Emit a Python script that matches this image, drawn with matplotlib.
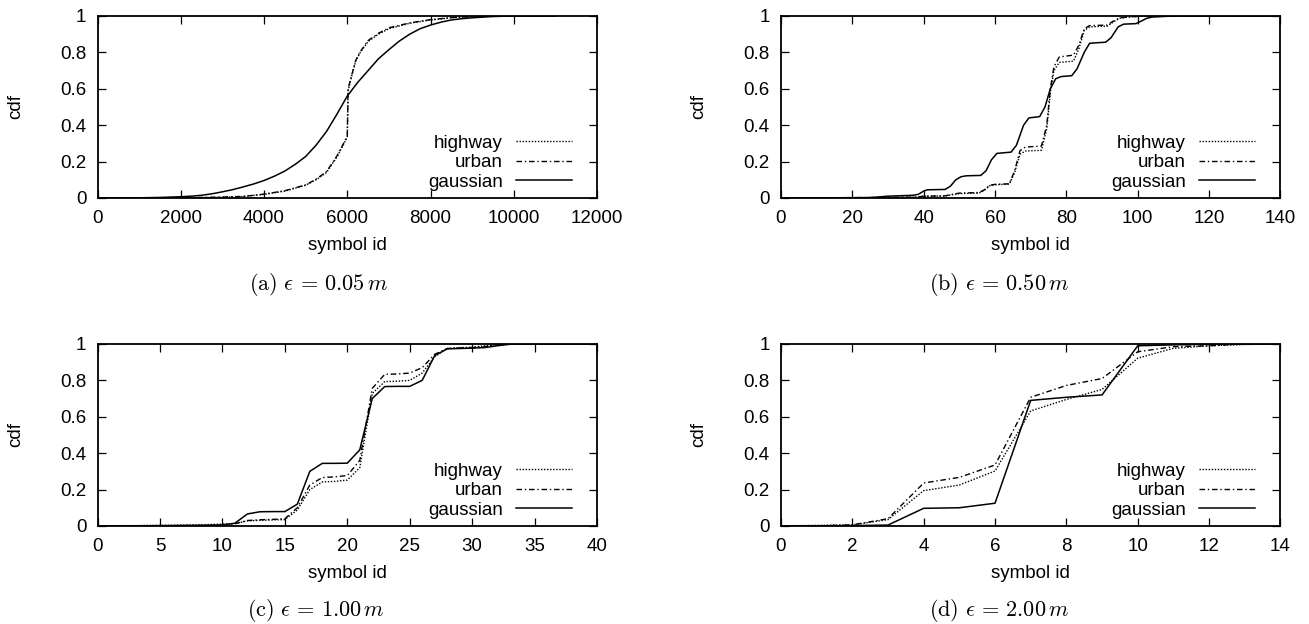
import matplotlib
matplotlib.use("Agg")
import matplotlib.pyplot as plt
from matplotlib.lines import Line2D

plt.rcParams["font.family"] = ["Liberation Sans", "DejaVu Sans"]
plt.rcParams["mathtext.fontset"] = "cm"

## (a) eps = 0.05 m
a_gauss_x = [0, 1000, 1500, 2000, 2250, 2500, 2750, 3000, 3250, 3500, 3750, 4000, 4250, 4500,
             4750, 5000, 5250, 5500, 5750, 6000, 6250, 6500, 6750, 7000, 7250, 7500, 7750,
             8000, 8250, 8500, 8750, 9000, 9500, 10000, 11000]
a_gauss_y = [0, 0.001, 0.003, 0.007, 0.01, 0.015, 0.023, 0.034, 0.046, 0.061, 0.077, 0.096,
             0.12, 0.148, 0.185, 0.228, 0.29, 0.365, 0.46, 0.56, 0.635, 0.70, 0.765, 0.815,
             0.862, 0.9, 0.93, 0.95, 0.966, 0.978, 0.985, 0.99, 0.997, 1.0, 1.0]
a_road_x = [0, 2000, 3000, 3500, 4000, 4500, 5000, 5250, 5500, 5750, 5900, 6000, 6020,
            6100, 6200, 6300, 6500, 6750, 7000, 7500, 8000, 8500, 9000, 9500, 11000]
a_highway_y = [0, 0.001, 0.004, 0.008, 0.02, 0.038, 0.07, 0.1, 0.14, 0.225, 0.29, 0.335, 0.59,
               0.665, 0.75, 0.795, 0.86, 0.9, 0.93, 0.96, 0.978, 0.99, 0.996, 1.0, 1.0]
a_urban_y = [0, 0.001, 0.005, 0.009, 0.021, 0.04, 0.072, 0.103, 0.145, 0.23, 0.295, 0.34, 0.6,
             0.67, 0.755, 0.8, 0.865, 0.905, 0.935, 0.962, 0.98, 0.991, 0.997, 1.0, 1.0]

## (b) eps = 0.50 m
b_gauss_x = [0, 25, 30, 37, 38.5, 40, 41, 46, 47.5, 49, 50.5, 52, 56, 57.5, 59, 60.5, 64.5,
             66, 68, 69.5, 72.5, 74, 75.5, 77, 78.5, 81.5, 83, 85, 86.5, 91, 92.5, 94.5, 96,
             99.5, 101, 102.5, 104, 108, 112, 140]
b_gauss_y = [0, 0.002, 0.01, 0.015, 0.02, 0.038, 0.045, 0.047, 0.065, 0.1, 0.117, 0.122, 0.124,
             0.15, 0.21, 0.245, 0.252, 0.29, 0.4, 0.44, 0.447, 0.5, 0.6, 0.655, 0.667, 0.672,
             0.71, 0.8, 0.85, 0.856, 0.88, 0.94, 0.955, 0.958, 0.972, 0.987, 0.994, 0.998, 1.0, 1.0]
b_road_x = [0, 30, 38, 40, 46, 48, 50, 55.5, 57, 58.5, 60, 64, 65.5, 67, 68.5, 73, 74.5, 75.5,
            76.5, 78, 82, 83.5, 85, 86.5, 91.5, 93, 95, 98, 102, 140]
b_highway_y = [0, 0.003, 0.005, 0.009, 0.011, 0.018, 0.024, 0.027, 0.042, 0.067, 0.073, 0.076,
               0.14, 0.24, 0.258, 0.262, 0.38, 0.58, 0.7, 0.745, 0.752, 0.82, 0.92, 0.94,
               0.944, 0.965, 0.988, 0.995, 1.0, 1.0]
b_urban_y = [0, 0.003, 0.005, 0.01, 0.012, 0.02, 0.027, 0.03, 0.045, 0.07, 0.075, 0.078, 0.15,
             0.26, 0.28, 0.285, 0.4, 0.6, 0.72, 0.775, 0.785, 0.84, 0.93, 0.947, 0.95, 0.97,
             0.99, 0.995, 1.0, 1.0]

## (c) eps = 1.00 m
c_x = list(range(0, 41))
c_gauss_y = [0, 0, 0, 0.001, 0.001, 0.002, 0.002, 0.003, 0.003, 0.004,
             0.006, 0.015, 0.066, 0.078, 0.079, 0.079, 0.12, 0.3, 0.344, 0.344,
             0.345, 0.418, 0.70, 0.766, 0.767, 0.767, 0.80, 0.936, 0.973, 0.975,
             0.977, 0.98, 0.99, 0.998, 1, 1, 1, 1, 1, 1, 1]
c_highway_y = [0.001, 0.001, 0.002, 0.002, 0.003, 0.003, 0.004, 0.005, 0.006, 0.008,
               0.01, 0.013, 0.028, 0.031, 0.033, 0.035, 0.088, 0.2, 0.242, 0.245,
               0.252, 0.32, 0.728, 0.793, 0.795, 0.80, 0.84, 0.93, 0.975, 0.98,
               0.982, 0.99, 0.996, 1, 1, 1, 1, 1, 1, 1, 1]
c_urban_y = [0, 0, 0, 0, 0.001, 0.001, 0.002, 0.002, 0.003, 0.004,
             0.006, 0.012, 0.03, 0.034, 0.036, 0.04, 0.1, 0.225, 0.266, 0.27,
             0.277, 0.36, 0.756, 0.833, 0.835, 0.84, 0.87, 0.943, 0.975, 0.978,
             0.98, 0.985, 0.995, 1, 1, 1, 1, 1, 1, 1, 1]

## (d) eps = 2.00 m
d_x = list(range(0, 15))
d_gauss_y = [0, 0, 0.002, 0.005, 0.097, 0.10, 0.125, 0.69, 0.707, 0.72, 0.99, 0.995, 0.998, 1, 1]
d_highway_y = [0.001, 0.003, 0.006, 0.035, 0.194, 0.225, 0.302, 0.632, 0.695, 0.75, 0.922,
               0.976, 0.99, 0.997, 1]
d_urban_y = [0, 0.001, 0.006, 0.04, 0.236, 0.267, 0.335, 0.707, 0.772, 0.81, 0.957, 0.985,
             0.99, 1, 1]

yticks = [0, 0.2, 0.4, 0.6, 0.8, 1]
ytick_labels = ["0", "0.2", "0.4", "0.6", "0.8", "1"]

STYLE = {
    "highway": dict(color="black", lw=1.0, linestyle=(0, (1, 1.2))),
    "urban": dict(color="black", lw=1.0, linestyle=(0, (4, 2, 1, 2))),
    "gaussian": dict(color="black", lw=1.1, linestyle="-"),
}

panels = [
    ([0.0745, 0.6827, 0.3816, 0.2917], 12000, 2000,
     (a_road_x, a_highway_y), (a_road_x, a_urban_y), (a_gauss_x, a_gauss_y),
     r"$\mathrm{(a)}\ \epsilon\,=\,0.05\,m$", (0.243, 1 - 285 / 624)),
    ([0.5966, 0.6827, 0.3816, 0.2917], 140, 20,
     (b_road_x, b_highway_y), (b_road_x, b_urban_y), (b_gauss_x, b_gauss_y),
     r"$\mathrm{(b)}\ \epsilon\,=\,0.50\,m$", (0.763, 1 - 285 / 624)),
    ([0.0745, 0.1571, 0.3816, 0.2917], 40, 5,
     (c_x, c_highway_y), (c_x, c_urban_y), (c_x, c_gauss_y),
     r"$\mathrm{(c)}\ \epsilon\,=\,1.00\,m$", (0.241, 1 - 610 / 624)),
    ([0.5966, 0.1571, 0.3816, 0.2917], 14, 2,
     (d_x, d_highway_y), (d_x, d_urban_y), (d_x, d_gauss_y),
     r"$\mathrm{(d)}\ \epsilon\,=\,2.00\,m$", (0.763, 1 - 610 / 624)),
]

fig = plt.figure(figsize=(13.09, 6.24), dpi=100)

for rect, xmax, xstep, hw, ub, ga, caption, cap_pos in panels:
    ax = fig.add_axes(rect)
    ax.plot(hw[0], hw[1], **STYLE["highway"])
    ax.plot(ub[0], ub[1], **STYLE["urban"])
    ax.plot(ga[0], ga[1], **STYLE["gaussian"])

    ax.set_xlim(0, xmax)
    ax.set_ylim(0, 1)
    ax.set_xticks(range(0, xmax + 1, xstep))
    ax.set_yticks(yticks)
    ax.set_yticklabels(ytick_labels)
    ax.tick_params(direction="in", length=5.5, width=0.9, top=True, right=True,
                   labelsize=13.5)
    ax.tick_params(axis="x", pad=9)
    ax.tick_params(axis="y", pad=8)
    for sp in ax.spines.values():
        sp.set_linewidth(1.3)

    ax.set_ylabel("cdf", fontsize=13.5)
    ax.yaxis.set_label_coords(-0.147, 0.5)
    ax.set_xlabel("symbol id", fontsize=13.5)
    ax.xaxis.set_label_coords(0.5, -0.215)

    handles = [Line2D([], [], **STYLE[k]) for k in ("highway", "urban", "gaussian")]
    ax.legend(handles, ["highway", "urban", "gaussian"], loc="lower right",
              bbox_to_anchor=(0.95, 0.04), frameon=False, markerfirst=False,
              handlelength=3.0, handletextpad=0.7, labelspacing=0.12,
              borderpad=0, borderaxespad=0, fontsize=13.5)

    fig.text(cap_pos[0], cap_pos[1], caption, fontsize=16, ha="center", va="center")

fig.savefig("out.png", dpi=100)
